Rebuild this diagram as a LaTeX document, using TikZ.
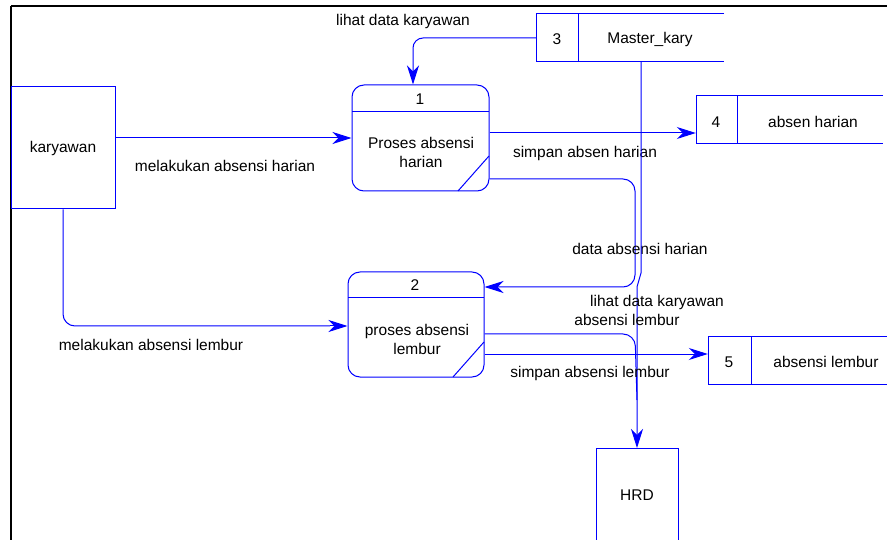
\documentclass[tikz,border=0pt]{standalone}
\usepackage{fontspec}
\setmainfont{Liberation Sans}
\usetikzlibrary{arrows.meta,calc}
\begin{document}
\begin{tikzpicture}[x=1pt,y=-1pt,
  every node/.style={font=\fontsize{15.5}{18}\selectfont, text=black, inner sep=0pt},
  bl/.style={draw=blue, line width=1pt},
  flow/.style={draw=blue, line width=1pt, -{Stealth[length=19pt,width=12pt,inset=6pt]}},
  line/.style={draw=blue, line width=1pt},
  entbox/.style={draw=blue, line width=1pt, rectangle},
  procbox/.style={draw=blue, line width=1pt, rectangle, rounded corners=12pt},
  storebox/.style={rectangle, draw=none},
  lbl/.style={}
]
\useasboundingbox (0,0) rectangle (887,540);
% frame
\draw[black, line width=2.5pt] (11,6) -- (900,6);
\draw[black, line width=2.5pt] (11,6) -- (11,560);

% external entities
\node[entbox, minimum width=104pt, minimum height=122pt] (kar) at (63,148) {};
\node at (63,148) {karyawan};
\node[entbox, minimum width=82pt, minimum height=130pt, anchor=north] (hrd) at (637,448) {};
\node at (637,495) {HRD};

% processes
\node[procbox, minimum width=137pt, minimum height=106pt] (p1) at (420.5,138) {};
\draw[bl] (352,112) -- (489,112);
\draw[bl] (458,191) -- (489,156);
\node (p1n) at (420,99) {1};
\node[align=center] (p1t) at (421,152.5) {Proses absensi\\[1pt]harian};

\node[procbox, minimum width=136pt, minimum height=105pt] (p2) at (416,324.5) {};
\draw[bl] (348,298) -- (484,298);
\draw[bl] (453,377) -- (484,342);
\node (p2n) at (415,285) {2};
\node[align=center] (p2t) at (417,339) {proses absensi\\[1pt]lembur};

% data stores
\node[storebox, minimum width=188pt, minimum height=48pt] (s3) at (630,38) {};
\draw[bl] (724,14) -- (536,14) -- (536,62) -- (724,62);
\draw[bl] (578,14) -- (578,62);
\node at (557,39) {3};
\node at (650,39) {Master\_kary};

\node[storebox, minimum width=187pt, minimum height=48pt] (s4) at (789.5,120) {};
\draw[bl] (883,96) -- (696,96) -- (696,144) -- (883,144);
\draw[bl] (737,96) -- (737,144);
\node at (716,122) {4};
\node at (813,122) {absen harian};

\node[storebox, minimum width=179pt, minimum height=47pt] (s5) at (797.5,360.5) {};
\draw[bl] (890,337) -- (708,337) -- (708,384) -- (890,384);
\draw[bl] (751,337) -- (751,384);
\node at (729,362) {5};
\node at (826,362) {absensi lembur};

% flows
\draw[flow, rounded corners=10pt] (s3.west) -| ($(p1.north)+(-7.5,0)$);
\node at (403,21) {lihat data karyawan};

\draw[flow] (kar.east |- p1.west) -- (p1.west);
\node at (225,166) {melakukan absensi harian};

\draw[flow] ($(p1.east)+(0,-5)$) -- ($(s4.west)+(0,13)$);
\node at (585,153) {simpan absen harian};

\draw[flow, rounded corners=12pt] ($(p1.east)+(0,41)$) -- (635,179) -- (635,287) -- ($(p2.east)+(0,-37.5)$);
\node at (640,249) {data absensi harian};

\draw[flow] ($(s3.south)+(11,0)$) -- (641,273) -- (637,287) -- (hrd.north);
\node at (657,302) {lihat data karyawan};

\draw[line, rounded corners=12pt] (kar.south) |- (330,326);
\draw[flow] (330,326) -- (p2.west |- 0,326);
\node at (151,345) {melakukan absensi lembur};

\draw[line, rounded corners=12pt] ($(p2.east)+(0,9.5)$) -- (635,334) -- (637,400);
\node at (627,320) {absensi lembur};

\draw[flow] ($(p2.east)+(0,29.5)$) -- ($(s5.west)+(0,-6.5)$);
\node at (590,373) {simpan absensi lembur};
\end{tikzpicture}
\end{document}
